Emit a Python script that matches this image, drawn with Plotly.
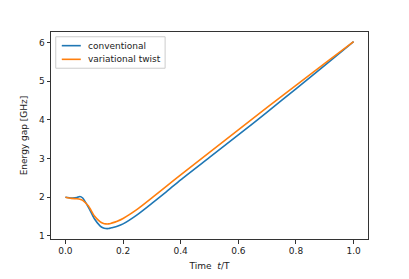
import plotly.graph_objects as go

t = [0.0, 0.02, 0.04, 0.05, 0.06, 0.08, 0.10, 0.12, 0.13, 0.14, 0.15, 0.16,
     0.18, 0.20, 0.25, 0.30, 0.35, 0.40, 0.50, 0.60, 0.70, 0.80, 0.90, 1.00]
conventional = [2.00, 1.98, 1.99, 2.02, 1.98, 1.74, 1.45, 1.26, 1.21, 1.19, 1.19, 1.21,
                1.25, 1.31, 1.55, 1.84, 2.14, 2.45, 3.03, 3.61, 4.20, 4.80, 5.41, 6.02]
variational = [2.00, 1.97, 1.96, 1.95, 1.92, 1.77, 1.52, 1.37, 1.33, 1.31, 1.31, 1.33,
               1.38, 1.45, 1.69, 1.98, 2.28, 2.58, 3.16, 3.74, 4.32, 4.89, 5.46, 6.02]
series_names = ["conventional", "variational twist"]
series_colors = ["#1f77b4", "#ff7f0e"]
x_ticks = [0.0, 0.2, 0.4, 0.6, 0.8, 1.0]
y_ticks = [1, 2, 3, 4, 5, 6]

font = "DejaVu Sans"
fig = go.Figure()
for name, vals, col in zip(series_names, [conventional, variational], series_colors):
    fig.add_trace(go.Scatter(x=t, y=vals, mode="lines", name=name,
                             line=dict(color=col, width=1.6, shape="spline", smoothing=0.6)))

axis_common = dict(showline=True, linecolor="#333333", linewidth=1, mirror=True,
                   ticks="outside", ticklen=3.5, tickwidth=0.8, tickcolor="#333333",
                   showgrid=False, zeroline=False, automargin=False,
                   tickfont=dict(family=font, size=9, color="#222222"))

# compact matplotlib-style legend drawn in paper coordinates
shapes = [dict(type="rect", xref="paper", yref="paper", x0=0.015, x1=0.36, y0=0.825, y1=0.977,
               line=dict(color="#cccccc", width=1), fillcolor="rgba(255,255,255,0.8)", layer="above")]
annotations = []
legend_y = [0.934, 0.868]
for name, col, ly in zip(series_names, series_colors, legend_y):
    shapes.append(dict(type="line", xref="paper", yref="paper", x0=0.034, x1=0.094, y0=ly, y1=ly,
                       line=dict(color=col, width=1.6), layer="above"))
    annotations.append(dict(xref="paper", yref="paper", x=0.110, y=ly, text=name, showarrow=False,
                            xanchor="left", yanchor="middle",
                            font=dict(family=font, size=9, color="#222222")))

fig.update_layout(
    width=409, height=279,
    margin=dict(l=51, r=41, t=32, b=40, pad=0),
    paper_bgcolor="white", plot_bgcolor="white",
    font=dict(family=font, size=9, color="#222222"),
    xaxis=dict(range=[-0.05, 1.05], tickvals=x_ticks, tickformat=".1f",
               title=dict(text="Time  <i>t</i>/T", font=dict(family=font, size=9), standoff=7),
               **axis_common),
    yaxis=dict(range=[0.92, 6.27], tickvals=y_ticks,
               title=dict(text="Energy gap [GHz]", font=dict(family=font, size=9), standoff=9),
               **axis_common),
    showlegend=False,
    shapes=shapes,
    annotations=annotations,
)

fig.write_html("out.html", post_script="document.body.style.margin='0';",
               config={"displayModeBar": False})
